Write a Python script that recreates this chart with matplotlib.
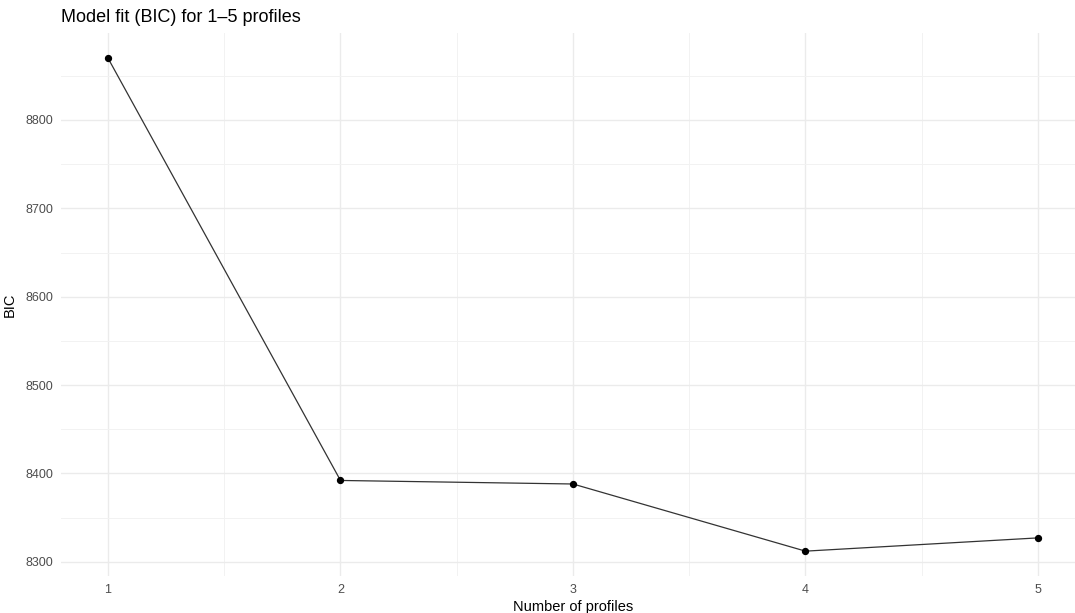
import matplotlib.pyplot as plt
from matplotlib.ticker import MultipleLocator

# BIC per number of latent profiles
n_profiles = [1, 2, 3, 4, 5]
bic = [8870, 8392, 8388, 8312, 8327]

plt.rcParams['font.family'] = ['Liberation Sans', 'DejaVu Sans']

fig = plt.figure(figsize=(10.75, 6.13), dpi=100)
ax = fig.add_axes([0.0572, 0.0607, 0.9516, 0.8847])

ax.plot(n_profiles, bic, color='#333333', linewidth=0.9, zorder=3)
ax.scatter(n_profiles, bic, color='black', s=18, zorder=4)

# ggplot-like expansion
xr = max(n_profiles) - min(n_profiles)
yr = max(bic) - min(bic)
ax.set_xlim(min(n_profiles) - 0.05 * xr, max(n_profiles) + 0.05 * xr)
ax.set_ylim(min(bic) - 0.05 * yr, max(bic) + 0.05 * yr)

ax.xaxis.set_major_locator(MultipleLocator(1))
ax.xaxis.set_minor_locator(MultipleLocator(0.5))
ax.yaxis.set_major_locator(MultipleLocator(100))
ax.yaxis.set_minor_locator(MultipleLocator(50))

ax.grid(which='major', color='#ebebeb', linewidth=1.0)
ax.grid(which='minor', color='#f2f2f2', linewidth=0.7)
ax.set_axisbelow(True)
for s in ax.spines.values():
    s.set_visible(False)
ax.tick_params(which='both', length=0)
ax.tick_params(axis='both', labelsize=9, labelcolor='#4d4d4d', pad=6)

ax.set_xlabel('Number of profiles', fontsize=10.5, color='black', labelpad=3)
ax.set_ylabel('BIC', fontsize=10.5, color='black', labelpad=6)
fig.text(0.0572, 0.972, 'Model fit (BIC) for 1\u20135 profiles', fontsize=13,
         ha='left', va='center')

plt.savefig('out.png', dpi=100)
